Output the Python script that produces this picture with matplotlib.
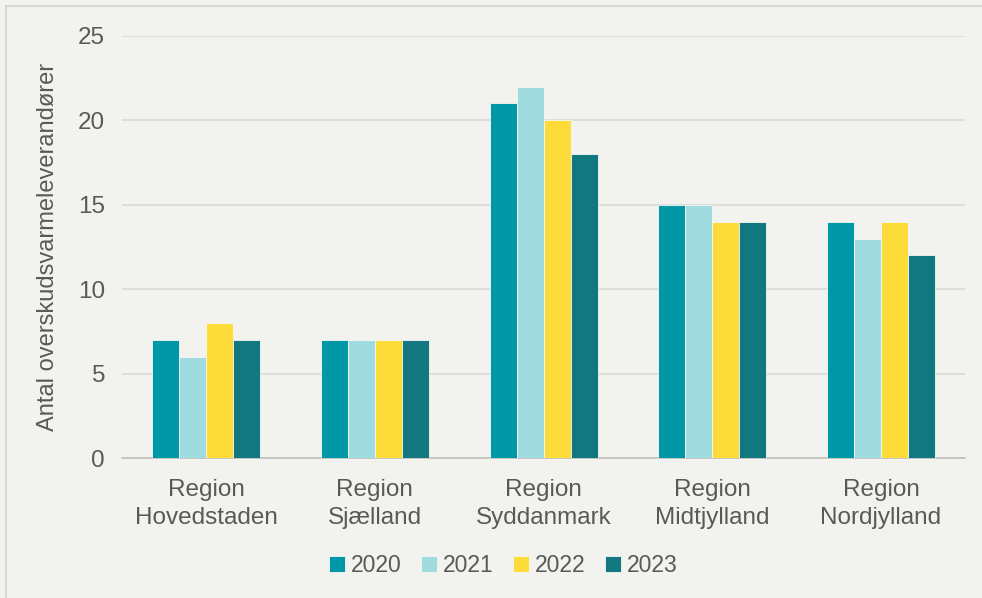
import numpy as np
import matplotlib.pyplot as plt
from matplotlib.patches import Rectangle

plt.rcParams['font.family'] = ['Liberation Sans', 'DejaVu Sans']

regions = ['Region\nHovedstaden', 'Region\nSjælland', 'Region\nSyddanmark',
           'Region\nMidtjylland', 'Region\nNordjylland']
years = ['2020', '2021', '2022', '2023']
v2020 = [7, 7, 21, 15, 14]
v2021 = [6, 7, 22, 15, 13]
v2022 = [8, 7, 20, 14, 14]
v2023 = [7, 7, 18, 14, 12]
colors = ['#0097a7', '#a0dbe0', '#fddc3a', '#117880']

bg = '#f2f2ee'
txt = '#595959'

fig = plt.figure(figsize=(9.82, 5.98), dpi=100, facecolor=bg)
fig.patches.append(Rectangle((6/982, -0.1), 1.2, 1.1 - 6/598, transform=fig.transFigure,
                             fill=False, edgecolor='#d9d9d9', lw=1.5))
ax = fig.add_axes([0.124, 0.234, 0.859, 0.706])
ax.set_facecolor(bg)

x = np.arange(len(regions))
w = 0.16
for i, (vals, c, yr) in enumerate(zip([v2020, v2021, v2022, v2023], colors, years)):
    ax.bar(x + (i - 1.5) * w, vals, w, color=c, label=yr,
           edgecolor='#f7f7f2', linewidth=0.6, zorder=3)

ax.set_xlim(-0.5, 4.5)
ax.set_ylim(0, 25)
ax.set_yticks([0, 5, 10, 15, 20, 25])
ax.grid(axis='y', color='#d9d9d9', lw=1.2, zorder=0)
for s in ['top', 'right', 'left']:
    ax.spines[s].set_visible(False)
ax.spines['bottom'].set_color('#bfbfbf')
ax.spines['bottom'].set_linewidth(1.2)
ax.tick_params(length=0, labelsize=17.5, colors=txt, pad=12)
ax.tick_params(axis='x', pad=15)
ax.set_xticks(x)
ax.set_xticklabels(regions, linespacing=1.35)
ax.set_ylabel('Antal overskudsvarmeleverandører', fontsize=17, color=txt, labelpad=14)

ax.legend(loc='center', bbox_to_anchor=(0.452, -0.254), ncol=4, frameon=False,
          fontsize=16.5, handlelength=0.7, handleheight=0.7, handletextpad=0.25,
          columnspacing=0.85, labelcolor=txt)

fig.savefig('out.png', dpi=100, facecolor=bg)
